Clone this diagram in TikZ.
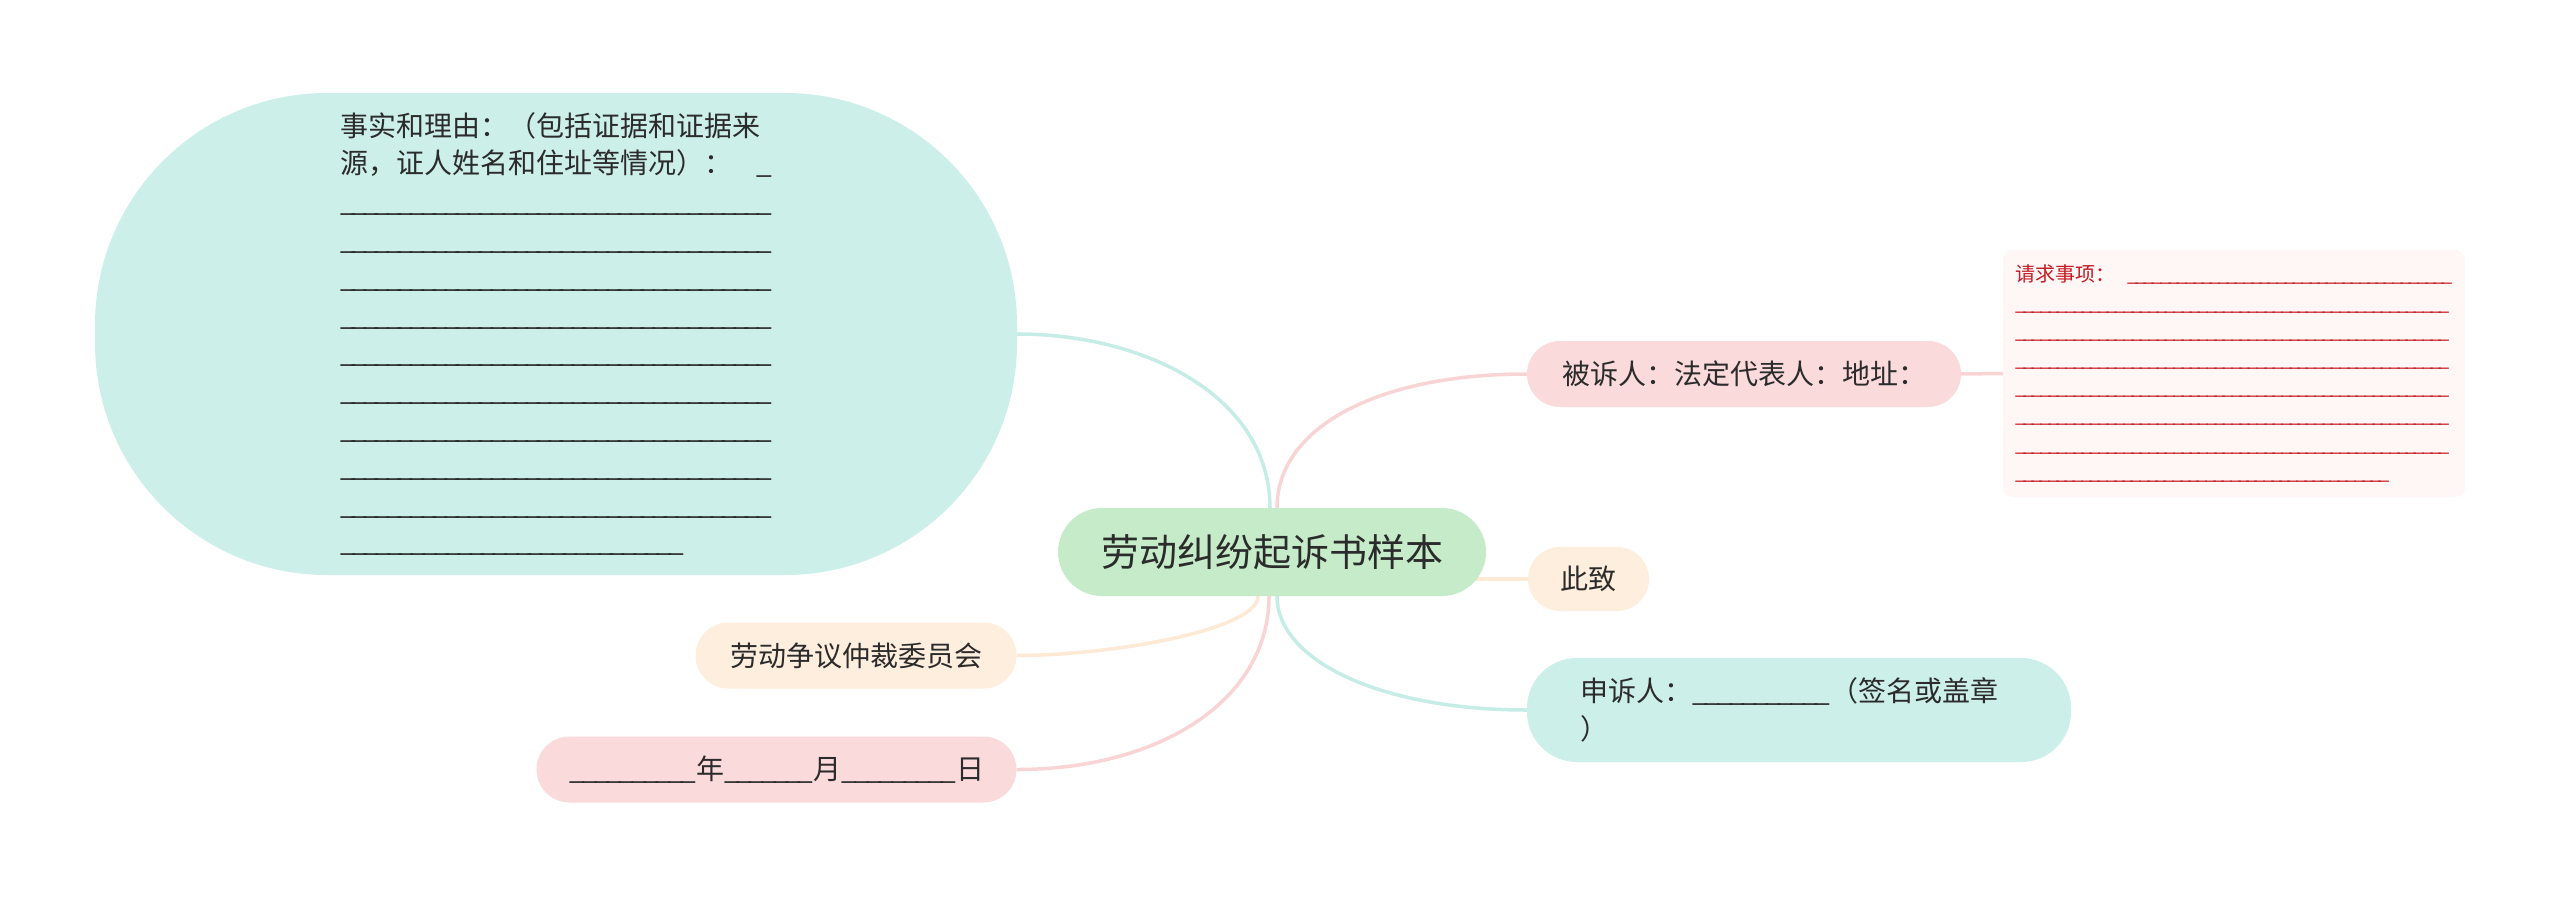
\documentclass[tikz,border=0pt]{standalone}
\usepackage{fontspec}
\setmainfont{Noto Sans CJK SC}
\usetikzlibrary{backgrounds}
\definecolor{txt}{HTML}{2B2B2B}
\definecolor{cgreen}{HTML}{C5EBC9}
\definecolor{cteal}{HTML}{CCEFE9}
\definecolor{cpink}{HTML}{FADADB}
\definecolor{cpeach}{HTML}{FEEEDD}
\definecolor{creq}{HTML}{FFF6F6}
\definecolor{cred}{HTML}{C41A22}
\definecolor{lteal}{HTML}{C6ECE6}
\definecolor{lpink}{HTML}{F8D4D5}
\definecolor{lpeach}{HTML}{FDE9D4}
\newcommand\ulbox[1]{\leavevmode\hbox to #1{\xleaders\hbox{\char`\_\kern-0.15em}\hfill\char`\_}}
\begin{document}
\begin{tikzpicture}[x=1pt,y=-1pt,
  every node/.style={inner sep=0pt, text=txt},
  bubble/.style={fill=#1, rounded corners=33pt, minimum height=66pt,
    font=\fontsize{28}{38}\selectfont},
  conn/.style={line width=3.5pt, draw=#1}]
\useasboundingbox (0,0) rectangle (2560,897);

% central topic
\node[fill=cgreen, rounded corners=44pt, minimum width=428pt, minimum height=88pt,
  font=\fontsize{38}{46}\selectfont] (ctr) at (1272,552) {劳动纠纷起诉书样本};

% facts node
\node[fill=cteal, rounded corners=232pt, minimum width=922pt, minimum height=482pt,
  text width=432pt, align=left, font=\fontsize{28}{37.8}\selectfont] (facts) at (556,334)
  {事实和理由：（包括证据和证据来\\
   源，证人姓名和住址等情况）：\hfill\ulbox{27pt}\\
   \ulbox{432pt}\\ \ulbox{432pt}\\ \ulbox{432pt}\\ \ulbox{432pt}\\ \ulbox{432pt}\\
   \ulbox{432pt}\\ \ulbox{432pt}\\ \ulbox{432pt}\\ \ulbox{432pt}\\
   \ulbox{344pt}};

% right side
\node[bubble=cpink, minimum width=434pt] (bs) at (1744,374) {被诉人：法定代表人：地址：};
\node[fill=creq, rounded corners=10pt, minimum width=462pt, minimum height=247pt,
  text width=438pt, align=left, text=cred, font=\fontsize{20}{28.2}\selectfont] (req) at (2234,373.5)
  {请求事项：\hfill\ulbox{326pt}\\
   \ulbox{435pt}\\ \ulbox{435pt}\\ \ulbox{435pt}\\ \ulbox{435pt}\\ \ulbox{435pt}\\ \ulbox{435pt}\\
   \ulbox{375pt}};
\node[fill=cpeach, rounded corners=32pt, minimum width=121pt, minimum height=64pt,
  font=\fontsize{28}{38}\selectfont] (zhi) at (1588.5,579) {此致};
\node[fill=cteal, rounded corners=50pt, minimum width=544pt, minimum height=104pt,
  text width=438pt, align=left, font=\fontsize{28}{38}\selectfont] (shen) at (1799,710)
  {申诉人：\ulbox{138pt}（签名或盖章\\）};

% left side
\node[bubble=cpeach, minimum width=321pt] (lao) at (856,655.5) {劳动争议仲裁委员会};
\node[bubble=cpink, minimum width=480pt] (date) at (776.5,769.5)
  {\ulbox{127pt}年\ulbox{89pt}月\ulbox{115pt}日};

\begin{scope}[on background layer]
\fill[white] (0,0) rectangle (2560,897);
\draw[conn=lteal] ([xshift=-2pt]ctr.north) .. controls +(0,-110) and +(130,0) .. (facts.east);
\draw[conn=lpink] ([xshift=5pt]ctr.north) .. controls +(0,-80) and +(-150,0) .. (bs.west);
\draw[conn=lpink] (bs.east) -- (req.west);
\draw[conn=lpeach] ([xshift=-40pt]ctr.east |- zhi.west) -- (zhi.west);
\draw[conn=lteal] ([xshift=5pt]ctr.south) .. controls +(0,64) and +(-147,0) .. (shen.west);
\draw[conn=lpeach] ([xshift=-14pt]ctr.south) .. controls +(0,34) and +(93,0) .. (lao.east);
\draw[conn=lpink] ([xshift=-3pt]ctr.south) .. controls +(0,104) and +(143,0) .. (date.east);
\end{scope}
\end{tikzpicture}
\end{document}
